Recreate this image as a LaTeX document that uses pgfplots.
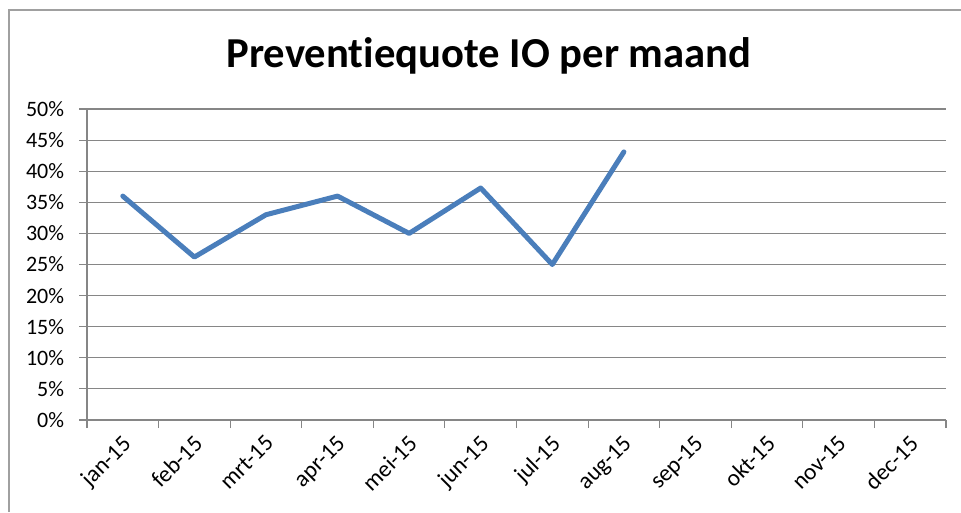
\documentclass[border=0pt]{standalone}
\usepackage{fontspec}
\setmainfont{Carlito}[Ligatures=NoCommon]
\usepackage{pgfplots}
\pgfplotsset{compat=1.18}
\definecolor{xlblue}{HTML}{4A7EBB}
\definecolor{xlgrid}{HTML}{868686}
\definecolor{xlframe}{HTML}{A0A0A0}
\begin{document}
\begin{tikzpicture}
\useasboundingbox (0,0) rectangle (720.75pt,384pt);
\draw[xlframe, line width=1.5pt] (6.75pt,0) -- (6.75pt,376.5pt) -- (721pt,376.5pt);
\node[font=\fontsize{32}{38}\selectfont\bfseries] at (366.75pt,342pt) {Preventiequote IO per maand};
\begin{axis}[
  at={(65.25pt,69pt)}, anchor=south west,
  scale only axis, width=644.25pt, height=233.25pt,
  xmin=-0.5, xmax=11.5, ymin=0, ymax=50,
  axis lines*=left,
  axis line style={xlgrid, line width=0.8pt},
  ytick={0,5,...,50},
  yticklabel={\pgfmathprintnumber{\tick}\%},
  ymajorgrids, grid style={xlgrid, line width=0.8pt},
  xtick={0,...,11},
  xticklabels={jan-15,feb-15,mrt-15,apr-15,mei-15,jun-15,jul-15,aug-15,sep-15,okt-15,nov-15,dec-15},
  minor xtick={-0.5,0.5,...,11.5},
  major x tick style={draw=none},
  tick align=outside,
  major tick length=6pt, minor tick length=6pt,
  tick style={xlgrid, line width=0.8pt},
  /pgf/number format/assume math mode=true,
  yticklabel style={font=\fontsize{16.5}{19}\selectfont, inner sep=0pt, xshift=-11pt},
  xticklabel style={font=\fontsize{17.5}{21}\selectfont, rotate=45, anchor=north east, inner sep=0pt, xshift=-4pt, yshift=-2pt},
  clip=false,
]
\addplot[xlblue, line width=3.75pt, line join=round, line cap=round] coordinates {
(0,36) (1,26.2) (2,33) (3,36) (4,30) (5,37.3) (6,25) (7,43.1)
};
\end{axis}
\end{tikzpicture}
\end{document}
